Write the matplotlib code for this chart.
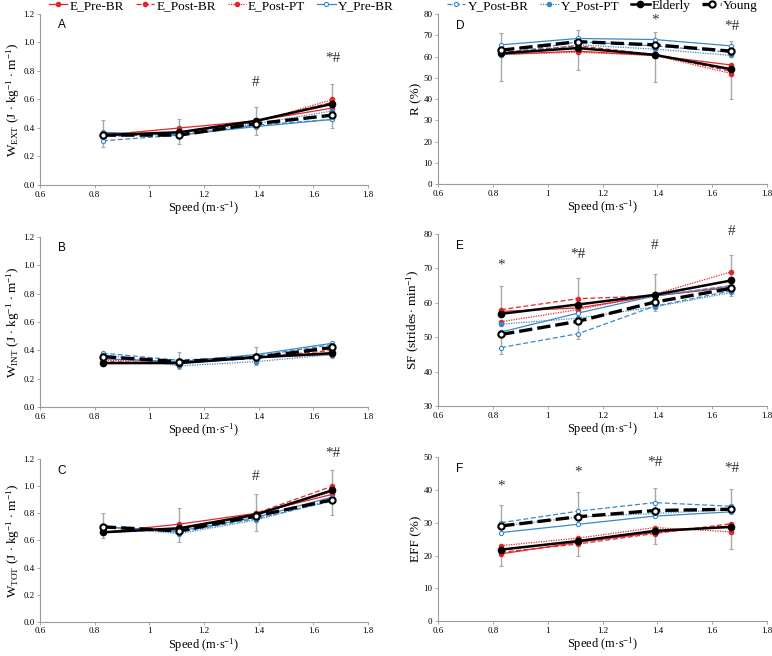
import matplotlib
matplotlib.use('Agg')
import matplotlib.pyplot as plt
from matplotlib.ticker import FuncFormatter, MultipleLocator

plt.rcParams['font.family'] = ['Liberation Serif', 'DejaVu Serif']
plt.rcParams['mathtext.fontset'] = 'custom'
plt.rcParams['mathtext.rm'] = 'Liberation Serif'
plt.rcParams['mathtext.it'] = 'Liberation Serif:italic'

speed = [0.83, 1.11, 1.39, 1.67]
series_names = ['E_Pre-BR', 'E_Post-BR', 'E_Post-PT', 'Y_Pre-BR',
                'Y_Post-BR', 'Y_Post-PT', 'Elderly', 'Young']

# values per series, in series_names order
wext = [[0.35, 0.40, 0.45, 0.54], [0.34, 0.36, 0.45, 0.58], [0.35, 0.37, 0.44, 0.60],
        [0.37, 0.35, 0.41, 0.46], [0.31, 0.35, 0.42, 0.46], [0.36, 0.35, 0.43, 0.52],
        [0.35, 0.37, 0.45, 0.57], [0.35, 0.35, 0.43, 0.49]]
wint = [[0.31, 0.32, 0.35, 0.37], [0.32, 0.31, 0.35, 0.40], [0.33, 0.32, 0.35, 0.38],
        [0.34, 0.32, 0.37, 0.45], [0.38, 0.33, 0.36, 0.44], [0.37, 0.29, 0.32, 0.37],
        [0.31, 0.31, 0.35, 0.38], [0.355, 0.32, 0.35, 0.42]]
wtot = [[0.66, 0.72, 0.80, 0.94], [0.66, 0.68, 0.80, 1.00], [0.66, 0.69, 0.79, 0.96],
        [0.70, 0.67, 0.77, 0.92], [0.70, 0.66, 0.76, 0.89], [0.70, 0.65, 0.75, 0.90],
        [0.66, 0.69, 0.79, 0.97], [0.70, 0.67, 0.78, 0.90]]
recov = [[61, 62.5, 60.5, 56], [62, 65, 61, 53], [61, 62, 60.5, 52],
         [65.5, 68.5, 68, 65], [61, 67, 65, 62], [60.5, 65.5, 63.5, 60.5],
         [61.5, 64, 60.8, 54], [63, 67, 65.5, 62.5]]
sf = [[57.5, 58.5, 62, 64.5], [58, 61.2, 62, 65], [54.5, 58, 62.5, 69],
      [51.5, 57, 62, 64.8], [47, 51, 59, 63.5], [53.8, 55.5, 58.8, 63],
      [56.8, 59.5, 62.3, 66.5], [50.8, 54.6, 60.2, 64.2]]
eff = [[20.5, 24, 27, 29], [21, 23.5, 26.7, 29.7], [23, 25.3, 28.5, 27.2],
       [27, 29.5, 32, 33.3], [30, 33.5, 36.1, 35], [29, 31.7, 32.8, 34],
       [21.8, 24.4, 27.5, 28.7], [29, 31.8, 33.7, 34.1]]

# error bars (lower, upper) for Elderly and Young
wext_eld_lo = [0, 0, 0, 0];          wext_eld_hi = [0.105, 0.09, 0.10, 0.14]
wext_yng_lo = [0.08, 0.06, 0.08, 0.09]; wext_yng_hi = [0, 0, 0, 0]
wint_eld_lo = [0.01, 0.04, 0.055, 0.035]; wint_eld_hi = [0, 0, 0, 0]
wint_yng_lo = [0, 0, 0, 0];          wint_yng_hi = [0.035, 0.065, 0.075, 0.03]
wtot_eld_lo = [0.04, 0, 0, 0];       wtot_eld_hi = [0, 0.15, 0.15, 0.15]
wtot_yng_lo = [0, 0.08, 0.11, 0.11]; wtot_yng_hi = [0.10, 0, 0, 0]
recov_eld_lo = [13, 10.5, 12.8, 14]; recov_eld_hi = [0, 0, 0, 0]
recov_yng_lo = [0, 0, 0, 0];         recov_yng_hi = [8, 5.5, 6, 5]
sf_eld_lo = [0, 0, 0, 0];            sf_eld_hi = [8.2, 7.8, 6, 7.5]
sf_yng_lo = [5.8, 5.1, 2.7, 2.2];    sf_yng_hi = [0, 0, 0, 0]
eff_eld_lo = [5, 4.4, 4, 6.7];       eff_eld_hi = [0, 0, 0, 0]
eff_yng_lo = [0, 0, 0, 0];           eff_yng_hi = [6.5, 7.5, 6.8, 6.1]

# significance markers (x, y, text)
wext_sig = [(1.39, 0.72, '#'), (1.67, 0.89, '*#')]
wint_sig = []
wtot_sig = [(1.39, 1.07, '#'), (1.67, 1.24, '*#')]
recov_sig = [(1.39, 77, '*'), (1.67, 74, '*#')]
sf_sig = [(0.83, 71, '*'), (1.11, 73.9, '*#'), (1.39, 76.8, '#'), (1.67, 80.6, '#')]
eff_sig = [(0.83, 41.3, '*'), (1.11, 45.3, '*'), (1.39, 48.3, '*#'), (1.67, 46.5, '*#')]

RED = '#e3262b'
BLUE = '#3b88c8'
GRAY = '#a8a8a8'
styles = [
    dict(color=RED, ls='-', lw=0.9, marker='o', ms=3, mfc=RED, mec=RED),
    dict(color=RED, ls=(0, (4, 2)), lw=0.9, marker='o', ms=3, mfc=RED, mec=RED),
    dict(color=RED, ls=(0, (1, 1)), lw=0.9, marker='o', ms=3, mfc=RED, mec=RED),
    dict(color=BLUE, ls='-', lw=0.9, marker='o', ms=3, mfc='white', mec=BLUE, mew=0.8),
    dict(color=BLUE, ls=(0, (4, 2)), lw=0.9, marker='o', ms=3, mfc='white', mec=BLUE, mew=0.8),
    dict(color=BLUE, ls=(0, (1, 1)), lw=0.9, marker='o', ms=3, mfc=BLUE, mec=BLUE),
    dict(color='black', ls='-', lw=1.8, marker='o', ms=4.5, mfc='black', mec='black'),
    dict(color='black', ls=(0, (4, 1.5)), lw=2.4, marker='o', ms=4.5, mfc='white', mec='black', mew=1.5),
]

fig = plt.figure(figsize=(7.72, 6.56), dpi=100)
positions = {
    'A': [0.0518, 0.718, 0.4249, 0.2607],
    'D': [0.5674, 0.7195, 0.4262, 0.2591],
    'B': [0.0518, 0.3796, 0.4249, 0.2591],
    'E': [0.5674, 0.3811, 0.4262, 0.2622],
    'C': [0.0518, 0.052, 0.4249, 0.2483],
    'F': [0.5674, 0.053, 0.4262, 0.2504],
}
panels = [
    ('A', wext, (wext_eld_lo, wext_eld_hi, wext_yng_lo, wext_yng_hi), wext_sig,
     (0, 1.2, 0.2), r'W$_{\mathrm{EXT}}$ (J $\cdot$ kg$^{-1}$ $\cdot$ m$^{-1}$)', '%.1f', 1.12),
    ('B', wint, (wint_eld_lo, wint_eld_hi, wint_yng_lo, wint_yng_hi), wint_sig,
     (0, 1.2, 0.2), r'W$_{\mathrm{INT}}$ (J $\cdot$ kg$^{-1}$ $\cdot$ m$^{-1}$)', '%.1f', 1.12),
    ('C', wtot, (wtot_eld_lo, wtot_eld_hi, wtot_yng_lo, wtot_yng_hi), wtot_sig,
     (0, 1.2, 0.2), r'W$_{\mathrm{TOT}}$ (J $\cdot$ kg$^{-1}$ $\cdot$ m$^{-1}$)', '%.1f', 1.11),
    ('D', recov, (recov_eld_lo, recov_eld_hi, recov_yng_lo, recov_yng_hi), recov_sig,
     (0, 80, 10), 'R (%)', '%d', 74.5),
    ('E', sf, (sf_eld_lo, sf_eld_hi, sf_yng_lo, sf_yng_hi), sf_sig,
     (30, 80, 10), r'SF (strides$\cdot$ min$^{-1}$)', '%d', 76.5),
    ('F', eff, (eff_eld_lo, eff_eld_hi, eff_yng_lo, eff_yng_hi), eff_sig,
     (0, 50, 10), 'EFF (%)', '%d', 46.3),
]


def xfmt(v, p):
    if abs(v - round(v)) < 1e-6:
        return f'{int(round(v))}'
    return f'{v:.1f}'


handles = None
for letter, vals, errs, sigs, ylim, ylabel, yfmt, lety in panels:
    ax = fig.add_axes(positions[letter])
    eld_lo, eld_hi, yng_lo, yng_hi = errs
    ax.errorbar(speed, vals[6], yerr=[eld_lo, eld_hi], fmt='none', ecolor=GRAY,
                elinewidth=1.0, capsize=1.5, capthick=0.8, zorder=1)
    ax.errorbar(speed, vals[7], yerr=[yng_lo, yng_hi], fmt='none', ecolor=GRAY,
                elinewidth=1.0, capsize=1.5, capthick=0.8, zorder=1)
    hs = []
    for i, (name, st) in enumerate(zip(series_names, styles)):
        h, = ax.plot(speed, vals[i], label=name, zorder=2 + i, **st)
        hs.append(h)
    if handles is None:
        handles = hs
    for (sx, sy, txt) in sigs:
        ax.text(sx, sy, txt, ha='center', va='center', fontsize=11, color='#333333')
    ax.text(0.68, lety, letter, family='Liberation Sans', fontsize=8.5, ha='center', va='center')
    ax.set_xlim(0.6, 1.8)
    ax.set_ylim(ylim[0], ylim[1])
    ax.xaxis.set_major_locator(MultipleLocator(0.2))
    ax.yaxis.set_major_locator(MultipleLocator(ylim[2]))
    ax.xaxis.set_major_formatter(FuncFormatter(xfmt))
    ax.yaxis.set_major_formatter(FuncFormatter(lambda v, p, f=yfmt: f % v))
    for s in ['top', 'right']:
        ax.spines[s].set_visible(False)
    for s in ['left', 'bottom']:
        ax.spines[s].set_color('#9a9a9a')
        ax.spines[s].set_linewidth(0.8)
    ax.tick_params(axis='both', labelsize=6.5, length=2.5, width=0.6, color='#9a9a9a', pad=1.5)
    ax.set_xlabel(r'Speed (m$\cdot$s$^{-1}$)', fontsize=9, labelpad=0.5)
    ax.set_ylabel(ylabel, fontsize=9.5, labelpad=1)

common = dict(loc='center left', ncol=4, frameon=False, fontsize=9.5,
              handlelength=1.4, handletextpad=0.15, columnspacing=0.9,
              borderaxespad=0, borderpad=0)
fig.legend(handles[:4], series_names[:4], bbox_to_anchor=(49 / 772, 0.991), **common)
fig.legend(handles[4:], series_names[4:], bbox_to_anchor=(447 / 772, 0.991), **common)

fig.savefig('out.png', dpi=100)
